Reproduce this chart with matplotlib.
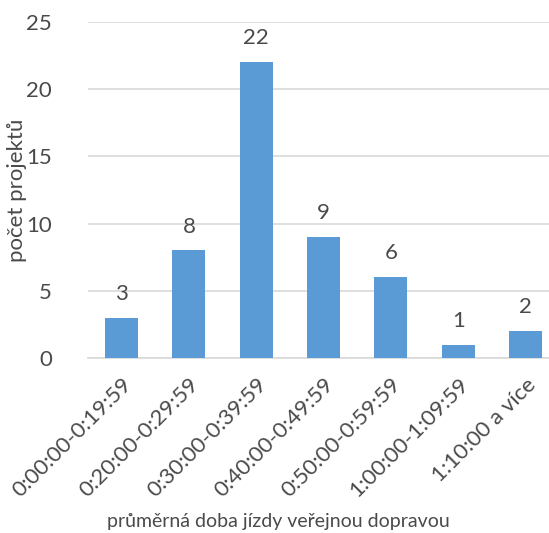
import numpy as np
import matplotlib
matplotlib.use('Agg')
import matplotlib.pyplot as plt

categories = ['0:00:00-0:19:59', '0:20:00-0:29:59', '0:30:00-0:39:59',
              '0:40:00-0:49:59', '0:50:00-0:59:59', '1:00:00-1:09:59',
              '1:10:00 a více']
counts = [3, 8, 22, 9, 6, 1, 2]
y_ticks = [0, 5, 10, 15, 20, 25]

plt.rcParams['font.family'] = ['Lato', 'DejaVu Sans']
text_color = '#4a4a4a'
bar_color = '#5B9BD5'
grid_color = '#D9D9D9'

W, H = 549, 533
fig = plt.figure(figsize=(W / 100, H / 100), dpi=100)
ax = fig.add_axes([88 / W, 1 - 358 / H, (W - 88) / W, (358 - 22) / H])

x = np.arange(len(categories))
bars = ax.bar(x, counts, width=0.49, color=bar_color, zorder=3)

for xi, v in zip(x, counts):
    ax.annotate(str(v), (xi, v), xytext=(0, 10), textcoords='offset points',
                ha='center', va='bottom', fontsize=16, color=text_color)

ax.set_xlim(-0.5, 6.35)
ax.set_ylim(0, 25)
ax.set_yticks(y_ticks)
ax.set_xticks(x)
ax.set_xticklabels(categories, rotation=45, ha='right', rotation_mode='anchor',
                   fontsize=16, color=text_color)
ax.tick_params(axis='y', labelsize=16, labelcolor=text_color, length=0, pad=26)
ax.tick_params(axis='x', length=0, pad=12)
ax.yaxis.grid(True, color=grid_color, linewidth=1.2, zorder=0)

for side in ['top', 'right', 'left']:
    ax.spines[side].set_visible(False)
ax.spines['bottom'].set_color(grid_color)
ax.spines['bottom'].set_linewidth(1.2)

fig.text(17 / W, 1 - 190 / H, 'počet projektů', rotation=90, ha='center',
         va='center', fontsize=16, color=text_color)
fig.text(278 / W, 1 - 521 / H, 'průměrná doba jízdy veřejnou dopravou',
         ha='center', va='center', fontsize=14, color=text_color)

fig.savefig('out.png', dpi=100)
